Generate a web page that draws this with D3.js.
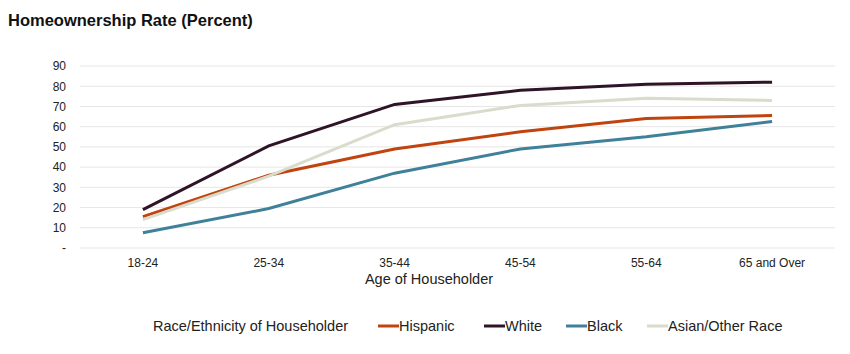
<!DOCTYPE html>
<html>
<head>
<meta charset="utf-8">
<script src="https://cdn.jsdelivr.net/npm/d3@7"></script>
<style>
body{margin:0;background:#fff;}
text{font-family:"Liberation Sans",Arial,sans-serif;}
</style>
</head>
<body>
<svg id="chart"></svg>
<script>
const ages = ["18-24","25-34","35-44","45-54","55-64","65 and Over"];
const seriesNames = ["Hispanic","White","Black","Asian/Other Race"];
const hispanic = [15.5,36,49,57.5,64,65.5];
const white = [19,50.5,71,78,81,82];
const black = [7.5,19.5,37,49,55,62.5];
const asian = [14,35.5,61,70.5,74,73];
const yTicks = [0,10,20,30,40,50,60,70,80,90];
const colors = ["#c0440f","#2f1428","#3f8199","#d9dccb"];

const width = 850, height = 354;
const margin = {top:66,right:15,bottom:106,left:80};
const svg = d3.select("#chart").attr("width",width).attr("height",height);

svg.append("text")
    .attr("x",8).attr("y",26)
    .attr("font-size",16.5).attr("font-weight","bold")
    .attr("fill","#111")
    .text("Homeownership Rate (Percent)");

const x = d3.scaleBand().domain(ages).range([margin.left,width-margin.right]);
const y = d3.scaleLinear().domain([0,90]).range([height-margin.bottom,margin.top]);

// gridlines
svg.append("g").selectAll("line")
    .data(yTicks).enter().append("line")
    .attr("x1",margin.left).attr("x2",width-margin.right)
    .attr("y1",d=>y(d)).attr("y2",d=>y(d))
    .attr("stroke","#e6e6e6").attr("stroke-width",1);

const yAxis = svg.append("g")
    .attr("transform",`translate(${margin.left-14},0)`)
    .call(d3.axisLeft(y).tickValues(yTicks).tickSize(0).tickPadding(0)
        .tickFormat(d=>d===0?"-":d));
yAxis.select(".domain").remove();
yAxis.selectAll("text").attr("font-size",12).attr("fill","#222")
    .attr("font-family","Liberation Sans, Arial, sans-serif");

const xAxis = svg.append("g")
    .attr("transform",`translate(0,${height-margin.bottom})`)
    .call(d3.axisBottom(x).tickSize(0).tickPadding(10));
xAxis.select(".domain").remove();
xAxis.selectAll("text").attr("font-size",12).attr("fill","#222")
    .attr("font-family","Liberation Sans, Arial, sans-serif");

svg.append("text")
    .attr("x",429).attr("y",284)
    .attr("text-anchor","middle").attr("font-size",14.5).attr("fill","#222")
    .text("Age of Householder");

const data = [hispanic,white,black,asian];
const line = d3.line()
    .x((d,i)=>x(ages[i])+x.bandwidth()/2)
    .y(d=>y(d));

// draw order: black, hispanic, asian, white on top
[2,0,3,1].forEach(k=>{
    svg.append("path")
        .datum(data[k])
        .attr("d",line)
        .attr("fill","none")
        .attr("stroke",colors[k])
        .attr("stroke-width",3);
});

// legend
const legend = svg.append("g").attr("transform","translate(0,326)");
legend.append("text")
    .attr("x",153).attr("y",5)
    .attr("font-size",14.5).attr("fill","#222")
    .text("Race/Ethnicity of Householder");
const legendX = [378,484,566,647];
seriesNames.forEach((n,i)=>{
    const g = legend.append("g").attr("transform",`translate(${legendX[i]},0)`);
    g.append("line").attr("x1",0).attr("x2",21).attr("y1",0).attr("y2",0)
        .attr("stroke",colors[i]).attr("stroke-width",3);
    g.append("text").attr("x",21).attr("y",5)
        .attr("font-size",14.5).attr("fill","#222").text(n);
});
</script>
</body>
</html>
